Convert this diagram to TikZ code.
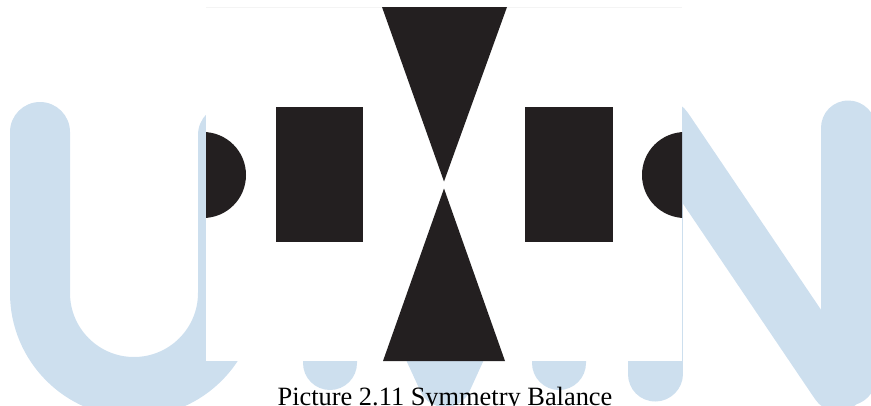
\documentclass[tikz,border=0pt]{standalone}
\usepackage{fontspec}
\setmainfont{Liberation Serif}
\usepackage{tikz}
\definecolor{figink}{RGB}{35,31,32}
\definecolor{figwm}{RGB}{205,223,238}
\definecolor{figedge}{RGB}{244,244,244}
\tikzset{
  wm/.style  ={draw=figwm, line cap=round, line join=round},
  blk/.style ={fill=figink},
  captxt/.style ={font=\fontsize{19.8}{24}\selectfont, inner sep=0pt, text=black},
}

\begin{document}
\begin{tikzpicture}[x=0.75pt,y=-0.75pt]
  \useasboundingbox (0,0) rectangle (871,405);
  \clip (0,0) rectangle (871,405);
  % watermark letters behind the panel
  \draw[wm,line width=45pt] (40,132) -- (40,293) arc[start angle=180,end angle=0,radius=94] -- (228,135);
  \draw[wm,line width=40.5pt] (330,363) -- (330,130) -- (445,380) -- (559,130) -- (559,363);
  \draw[wm,line width=41.25pt] (655,374) -- (655,130);
  \draw[wm,line width=41.25pt] (665,128) -- (838,384);
  \draw[wm,line width=41.25pt] (848,128) -- (848,378);
  % panel
  \fill[white] (206,7) rectangle (682,361);
  \draw[figedge, line width=0.6pt] (206,7) -- (682,7);
  % half discs at the edges
  \begin{scope}
  \clip (206,7) rectangle (682,361);
  \fill[blk] (203,175) circle[radius=43];
  \fill[blk] (685,175) circle[radius=43];
  \end{scope}
  % bars
  \fill[blk] (276,107) rectangle (363,242);
  \fill[blk] (525,107) rectangle (613,242);
  % hourglass
  \fill[blk] (382,7) -- (507,7) -- (444,181.5) -- cycle;
  \fill[blk] (383,361) -- (505,361) -- (444,188.5) -- cycle;
  \node[captxt, anchor=base] (caption) at (445,405.5) {Picture 2.11 Symmetry Balance};
\end{tikzpicture}
\end{document}
